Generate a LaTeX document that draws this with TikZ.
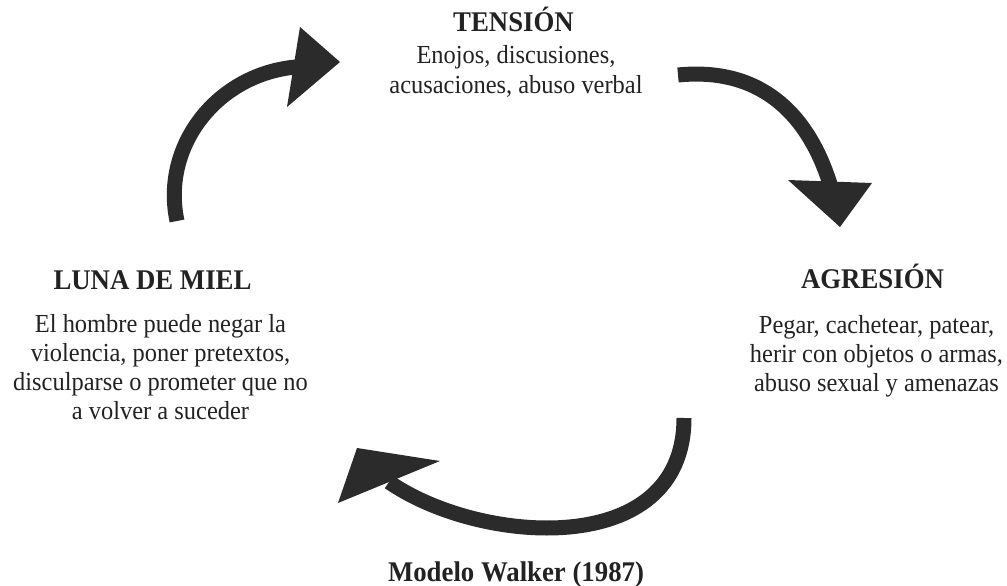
\documentclass[tikz,border=0pt]{standalone}
\usepackage{fontspec}
\setmainfont{Liberation Serif}[FakeStretch=0.94]
\definecolor{arrowgray}{HTML}{2B2B2B}
\definecolor{textgray}{HTML}{222222}
\begin{document}
\begin{tikzpicture}[x=1pt,y=-1pt,
  title/.style={font=\fontsize{28.5}{32}\selectfont\bfseries, text=textgray, inner sep=0pt, anchor=base},
  body/.style={font=\fontsize{26}{29}\selectfont, text=textgray, inner sep=0pt, align=center, anchor=base},
  shaft/.style={draw=arrowgray, line width=15pt},
  arrowhead/.style={fill=arrowgray}]
\useasboundingbox[fill=white] (0,0) rectangle (1007,586);
\node[title] (tension) at (513.5,32) {TENSIÓN};
\node[body, font=\fontsize{26}{30}\selectfont] (tensionbody) at (516,93) {Enojos, discusiones,\\acusaciones, abuso verbal};
\node[title] (agresion) at (872.5,288) {AGRESIÓN};
\node[body] (agresionbody) at (876.5,391) {Pegar, cachetear, patear,\\herir con objetos o armas,\\abuso sexual y amenazas};
\node[title] (luna) at (152.5,289) {LUNA DE MIEL};
\node[body] (lunabody) at (160.5,419) {El hombre puede negar la\\violencia, poner pretextos,\\disculparse o prometer que no\\a volver a suceder};
\node[title] (modelo) at (516,581) {Modelo Walker (1987)};
% arrow 1: luna de miel -> tension
\coordinate (a1s) at (177,221);
\coordinate (a1b) at (296,67);
\coordinate (a1t) at (340,62);
\coordinate (a1u) at (300,27);
\coordinate (a1d) at (287,107);
% arrow 2: tension -> agresion
\coordinate (a2s) at (678,75);
\coordinate (a2b) at (830,184);
\coordinate (a2t) at (840,227);
\coordinate (a2u) at (788,180);
\coordinate (a2d) at (872,183);
% arrow 3: agresion -> luna de miel
\coordinate (a3s) at (684,418);
\coordinate (a3b) at (389,482);
\coordinate (a3t) at (357,448);
\coordinate (a3u) at (440,461);
\coordinate (a3d) at (338,503);
\draw[shaft] (a1s) .. controls (161,145) and (218,74) .. (a1b);
\fill[arrowhead] (a1t) -- (a1u) -- (a1d) -- cycle;
\draw[shaft] (a2s) .. controls (758,67) and (807,111) .. (a2b);
\fill[arrowhead] (a2t) -- (a2u) -- (a2d) -- cycle;
\draw[shaft] (a3s) .. controls (684,560) and (480,545) .. (a3b);
\fill[arrowhead] (a3t) -- (a3u) -- (a3d) -- cycle;
\end{tikzpicture}
\end{document}
